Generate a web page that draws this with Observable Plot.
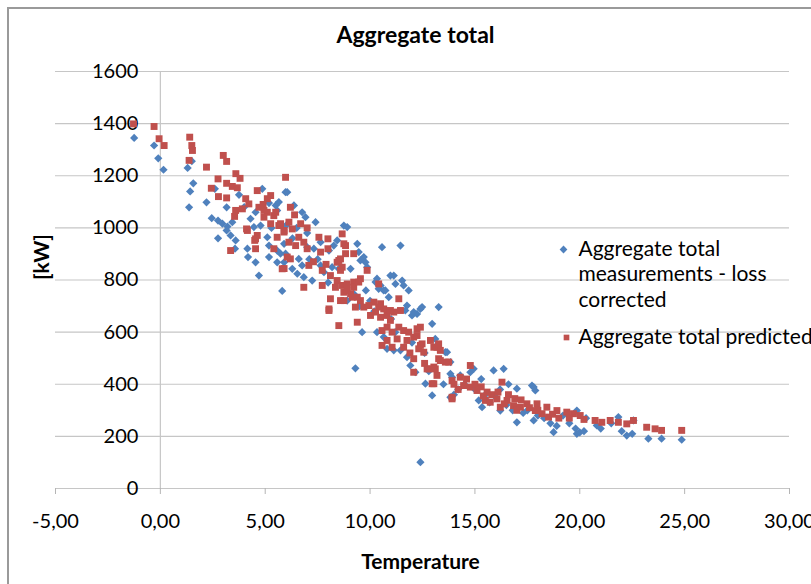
<!DOCTYPE html>
<html>
<head>
<meta charset="utf-8">
<script src="https://cdn.jsdelivr.net/npm/d3@7"></script>
<script src="https://cdn.jsdelivr.net/npm/@observablehq/plot@0.6"></script>
<style>
  html, body { margin: 0; padding: 0; background: #fff; overflow: hidden; }
  #wrap { position: relative; width: 811px; height: 584px; }
  #border { position: absolute; left: 7px; top: 7px; width: 1000px; height: 1000px;
            border-top: 2px solid #9a9a9a; border-left: 2px solid #9a9a9a; pointer-events: none; }
  #chart { position: absolute; left: 0; top: 0; }
</style>
</head>
<body>
<div id="wrap"><div id="border"></div><div id="chart"></div></div>
<script>
const titleText = "Aggregate total";
const xLabel = "Temperature";
const yLabel = "[kW]";
const seriesNames = ["Aggregate total measurements - loss corrected", "Aggregate total predicted"];
const legendLines = ["Aggregate total", "measurements - loss", "corrected"];
const xTicks = [-5, 0, 5, 10, 15, 20, 25, 30];
const yTicks = [0, 200, 400, 600, 800, 1000, 1200, 1400, 1600];

// [temperature, kW] — measurements, loss corrected (blue diamonds)
const measured = [
  [-1.25,1345],[-0.3,1316],[-0.1,1267],[0.15,1223],
  [1.5,1256],[1.57,1171],[1.42,1140],[1.37,1079],[1.3,1230],
  [2.2,1098],[2.45,1037],[2.75,1028],[2.96,1016],[3.2,1005],[3.43,1022],[2.75,960],[3.16,1079],
  [3.16,990],[3.35,971],[3.59,952],[3.56,920],[4.15,920],[4.18,888],[4.54,868],[3.75,1127],
  [4.3,1035],[4.54,1060],[4.46,1003],[4.78,1009],[4.86,1150],[5.18,1095],[5.5,1086],[5.65,1099],
  [5.57,1067],[5.1,964],[5.18,932],[5.57,913],[5.18,888],[5.97,1137],[5.9,939],[5.97,901],[5.57,868],
  [6.05,1137],[6.37,1086],[6.76,1060],[6.92,1041],[7.4,1022],[4.7,817],[5.73,901],[5.9,868],
  [6.29,843],[6.53,824],[6.84,811],[7.24,798],[5.81,758],[6.6,881],[6.76,856],[7.0,926],[7.32,920],
  [7.64,945],[8.04,913],[8.27,932],[8.75,1009],[8.91,1003],[8.43,952],[9.39,939],[9.46,907],
  [9.54,875],[9.78,868],[10.57,926],[9.07,843],[8.51,843],[8.19,849],[7.64,856],[10.33,805],
  [10.5,779],[10.73,760],[10.89,734],[8.91,721],[9.22,747],[10.97,817],
  [11.45,932],[9.7,888],[9.86,849],[11.13,817],[11.53,798],[11.6,779],[11.84,760],[11.21,785],
  [10.26,792],[10.41,766],[13.27,696],[12.4,689],[12.24,670],[12.0,664],[11.76,702],[11.68,683],
  [9.62,600],[12.96,632],[13.11,574],[13.19,549],[10.33,600],[10.65,581],
  [12.08,677],[12.48,696],[13.67,523],[13.83,485],[10.81,536],[11.13,530],[11.45,530],[11.76,504],
  [11.92,472],[12.16,446],[12.64,402],[12.96,357],[13.91,427],[13.83,350],[10.65,760],
  [13.59,523],[13.83,440],[14.3,434],[14.78,446],[14.94,459],[15.89,453],[16.37,459],[15.18,338],
  [15.34,312],[16.21,299],[17.0,254],[17.8,261],[17.88,376],[17.0,383],[17.72,395],[12.4,101],
  [17.8,389],[18.75,216],[19.86,210],[20.81,242],[22.24,203],[23.27,191],[23.9,191],[24.86,187],
  [19.86,299],[21.84,274],[22.56,261],[9.3,461],
  [14.5,400],[15.0,380],[15.5,360],[15.7,330],[16.0,350],[16.5,320],[16.8,300],[17.3,290],
  [17.5,300],[18.0,280],[18.3,270],[18.6,250],[18.9,240],[19.2,280],[19.5,250],[19.8,230],
  [20.0,215],[20.2,220],[20.3,270],[21.0,230],[21.5,250],[22.0,220],[22.5,210],[16.6,400],
  [16.2,380],[15.3,420],[14.2,380],[13.5,400],[14.0,360],[12.0,560],[12.6,520],[12.8,450],
  [11.2,600],[11.0,650],[10.0,720],[10.2,680],[9.8,760],[9.5,700],[8.0,790],[7.8,830],
  [7.5,880],[7.1,880],[6.3,960],[6.0,1010],[6.5,1000],[7.0,980],[5.3,1000],[4.0,1080],[2.6,1150]
];

// [temperature, kW] — predicted (red squares)
const predicted = [
  [-1.28,1399],[-0.3,1389],[-0.06,1342],[0.18,1316],[1.4,1348],[1.5,1316],[1.53,1297],[1.37,1259],
  [2.2,1233],[3.0,1278],[3.16,1255],[3.6,1208],[2.75,1188],[2.43,1152],[3.16,1171],[3.43,1159],
  [3.67,1154],[2.77,1120],[3.16,1115],[3.59,1067],[3.54,1044],[4.07,1112],[4.22,1092],[3.91,1073],
  [4.62,1143],[5.1,1112],[4.7,1079],[5.1,1060],[4.94,1041],[5.41,1047],[5.26,1016],[4.11,996],
  [4.62,971],[4.5,952],[3.35,913],[4.54,920],[5.97,1194],[5.65,1009],[5.9,990],[5.9,844],
  [5.26,1124],[4.94,1067],[6.2,1079],[5.73,1016],[6.13,1022],[6.69,1016],[5.9,984],[5.57,964],
  [6.29,996],[6.6,964],[6.84,945],[7.0,920],[6.13,945],[6.45,932],[4.54,958],[4.15,990],[5.41,920],
  [6.2,881],[6.05,888],[5.81,843],[7.08,856],[7.56,964],[7.99,958],[7.64,907],[7.99,920],[8.67,977],
  [8.83,932],[8.59,881],[8.43,868],[8.59,837],[7.72,837],[8.11,817],[8.43,798],[8.67,779],[8.91,785],
  [9.22,792],[8.35,772],[8.75,753],[9.07,747],[9.39,734],[8.11,728],[8.59,721],[6.84,772],[7.72,779],
  [8.04,689],[9.3,696],[9.54,805],[9.86,837],[10.18,715],[10.5,709],[10.65,689],
  [8.75,939],[8.83,901],[9.22,901],[8.51,875],[8.67,849],[8.91,760],[9.22,772],[8.75,721],[9.15,734],
  [9.46,792],[9.54,721],[9.7,696],[9.94,702],[10.41,696],[10.26,677],[10.02,664],[10.5,657],
  [10.81,664],[10.97,645],[11.13,677],[11.45,683],[10.41,785],[11.37,728],[8.04,683],[8.51,625],
  [9.39,638],[10.57,606],[10.81,619],[11.05,600],[11.37,619],[11.6,606],[11.84,600],[12.24,613],
  [12.08,581],[11.76,568],[11.29,574],[10.81,568],[10.57,549],[11.05,542],[11.6,542],[12.4,549],
  [12.88,568],[13.19,542],
  [10.97,683],[12.24,587],[12.4,619],[12.32,536],[12.56,523],[12.08,498],[12.08,446],[12.72,459],
  [13.04,466],[13.27,498],[13.35,530],[13.59,485],[13.19,434],[12.96,402],[13.91,350],[14.3,427],
  [14.78,472],
  [13.91,414],[14.46,395],[14.78,389],[15.1,376],[15.58,370],[15.5,338],[16.05,344],[16.53,338],
  [16.84,318],[17.17,312],[17.48,325],[17.88,299],[18.2,287],[18.51,274],[16.29,408],[16.21,312],
  [15.73,331],[13.91,344],[13.04,402],[12.48,555],[13.04,542],[13.27,555],[13.35,491],[13.11,459],
  [12.8,459],[13.75,485],
  [24.86,223],[23.19,235],[23.59,229],[23.9,223],[21.84,254],[22.24,248],[22.56,261],[20.73,261],
  [21.05,254],[21.45,261],[19.7,287],[20.02,280],[19.38,293],[18.91,299],[18.43,312],[17.96,325],
  [14.6,420],[15.0,400],[15.3,390],[15.8,360],[16.1,370],[16.6,360],[16.9,345],[17.2,340],
  [17.6,310],[18.0,300],[18.7,285],[19.0,270],[19.5,270],[20.2,265],[15.4,355],[16.4,325],
  [17.0,300],[14.2,380],[14.0,400],[12.6,480],[11.9,520],[7.3,870],[7.9,860],[7.0,1000],
  [6.4,1050],[5.5,1060],[4.9,1090],[3.8,1190]
];

const blue = "#4f81bd";
const red = "#c0504d";
const fmtX = d => d.toFixed(2).replace(".", ",");

const chart = Plot.plot({
  width: 811,
  height: 584,
  marginLeft: 55,
  marginRight: 22,
  marginTop: 71,
  marginBottom: 96,
  style: { fontFamily: "Lato, 'Open Sans', sans-serif", fontSize: "20px", color: "#000", background: "transparent" },
  x: { domain: [-5, 30], axis: null },
  y: { domain: [0, 1600], axis: null },
  marks: [
    Plot.ruleY(yTicks, { stroke: "#c6c6c6", strokeWidth: 1.2 }),
    Plot.ruleX([0], { stroke: "#c6c6c6", strokeWidth: 1.2 }),
    Plot.axisX(xTicks, { anchor: "bottom", tickSize: 6, tickPadding: 19, stroke: "#b5b5b5", fill: "#000",
      tickFormat: fmtX, fontSize: 20 }),
    Plot.text(yTicks, { x: 0, y: d => d, text: d => String(d), textAnchor: "end", dx: -22, fontSize: 20, fill: "#000" }),
    Plot.dot(measured, { x: d => d[0], y: d => d[1], symbol: "diamond2", r: 3.7, fill: blue, stroke: "none" }),
    Plot.dot(predicted, { x: d => d[0], y: d => d[1], symbol: "square", r: 3.9, fill: red, stroke: "none" }),
    Plot.text([titleText], { frameAnchor: "top", lineAnchor: "middle", dy: -36, dx: -7, fontWeight: "bold", fontSize: 23 }),
    Plot.text([xLabel], { frameAnchor: "bottom", lineAnchor: "middle", dy: 74, dx: -2, fontWeight: "bold", fontSize: 21 }),
    Plot.text([yLabel], { frameAnchor: "left", lineAnchor: "middle", dx: -13, rotate: -90, fontWeight: "bold", fontSize: 21 }),
    // legend
    Plot.dot([seriesNames[0]], { frameAnchor: "top-left", dx: 508, dy: 178, symbol: "diamond2", r: 3.5, fill: blue, stroke: "none" }),
    Plot.text([legendLines[0]], { frameAnchor: "top-left", lineAnchor: "middle", dx: 523, dy: 178, textAnchor: "start", fontSize: 21 }),
    Plot.text([legendLines[1]], { frameAnchor: "top-left", lineAnchor: "middle", dx: 523, dy: 203, textAnchor: "start", fontSize: 21 }),
    Plot.text([legendLines[2]], { frameAnchor: "top-left", lineAnchor: "middle", dx: 523, dy: 229, textAnchor: "start", fontSize: 21 }),
    Plot.dot([seriesNames[1]], { frameAnchor: "top-left", dx: 511, dy: 266, symbol: "square", r: 3.2, fill: red, stroke: "none" }),
    Plot.text([seriesNames[1]], { frameAnchor: "top-left", lineAnchor: "middle", dx: 523, dy: 266, textAnchor: "start", fontSize: 21 })
  ]
});
document.getElementById("chart").appendChild(chart);
</script>
</body>
</html>
